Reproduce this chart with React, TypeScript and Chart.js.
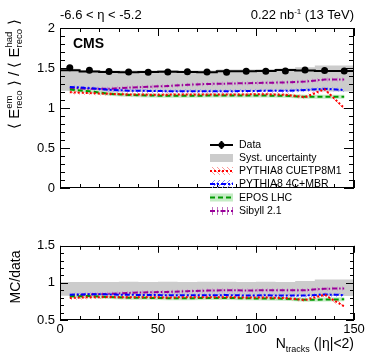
import React, { useEffect, useRef } from "react";
import { Chart, registerables } from "chart.js";
Chart.register(...registerables);

const FONT = "'Liberation Sans', Arial, Helvetica, sans-serif";

// ---- data ----
const binEdges = [0, 10, 20, 30, 40, 50, 60, 70, 80, 90, 100, 110, 120, 130, 140, 150];
const dataValues = [1.503, 1.471, 1.455, 1.451, 1.448, 1.451, 1.452, 1.451, 1.448, 1.459, 1.46, 1.464, 1.476, 1.47, 1.464];
const systLow = [1.235, 1.215, 1.205, 1.2, 1.2, 1.2, 1.2, 1.2, 1.2, 1.205, 1.205, 1.21, 1.215, 1.21, 1.205];
const systHigh = [1.525, 1.49, 1.475, 1.47, 1.47, 1.47, 1.475, 1.47, 1.47, 1.48, 1.48, 1.485, 1.495, 1.51, 1.53];
const pythiaCUETP8M1 = [1.197, 1.187, 1.177, 1.17, 1.167, 1.167, 1.17, 1.17, 1.17, 1.17, 1.172, 1.165, 1.135, 1.235, 1.0];
const pythia4CMBR = [1.264, 1.248, 1.228, 1.217, 1.214, 1.21, 1.21, 1.21, 1.21, 1.212, 1.215, 1.215, 1.225, 1.24, 1.225];
const eposLHC = [1.231, 1.21, 1.177, 1.163, 1.156, 1.153, 1.153, 1.155, 1.155, 1.155, 1.155, 1.152, 1.14, 1.14, 1.14];
const sibyll21 = [1.25, 1.24, 1.24, 1.255, 1.265, 1.275, 1.29, 1.3, 1.305, 1.31, 1.315, 1.32, 1.33, 1.355, 1.355];

const xTicks = [0, 50, 100, 150];
const yTopTicks = [0, 0.5, 1, 1.5, 2];
const yBottomTicks = [0.5, 1, 1.5];
const legendLabels = ["Data", "Syst. uncertainty", "PYTHIA8 CUETP8M1", "PYTHIA8 4C+MBR", "EPOS LHC", "Sibyll 2.1"];

const RED = "#ff0000";
const BLUE = "#0000ff";
const GREEN = "#009a00";
const PURPLE = "#990099";
const GREY = "#cccccc";

const binCenters = binEdges.slice(0, -1).map((e, i) => (e + binEdges[i + 1]) / 2);
const stepData = (vals: number[]) => binEdges.map((e, i) => ({ x: e, y: vals[Math.min(i, vals.length - 1)] }));
const pts = (vals: number[]) => binCenters.map((c, i) => ({ x: c, y: vals[i] }));
const ratio = (vals: number[]) => vals.map((v, i) => v / dataValues[i]);

function hatch(color: string, kind: string): CanvasPattern | string {
  const c = document.createElement("canvas");
  c.width = 5;
  c.height = 5;
  const g = c.getContext("2d");
  if (!g) return color;
  g.strokeStyle = color;
  g.lineWidth = 1;
  g.beginPath();
  if (kind === "v") {
    g.moveTo(2.5, 0);
    g.lineTo(2.5, 5);
  } else if (kind === "d1") {
    g.moveTo(-1, 6);
    g.lineTo(6, -1);
  } else if (kind === "d2") {
    g.moveTo(-1, -1);
    g.lineTo(6, 6);
  } else {
    g.fillStyle = color;
    g.fillRect(0, 0, 5, 5);
  }
  g.stroke();
  return g.createPattern(c, "repeat") || color;
}

type Part = { t?: string; sup?: string; sub?: string; size: number; up?: number; down?: number; dy?: number; bold?: boolean };

function partWidth(ctx: CanvasRenderingContext2D, p: Part) {
  ctx.font = `${p.bold ? "bold " : ""}${p.size}px ${FONT}`;
  if (p.t !== undefined) return ctx.measureText(p.t).width;
  return Math.max(ctx.measureText(p.sup || "").width, ctx.measureText(p.sub || "").width);
}

function drawParts(ctx: CanvasRenderingContext2D, parts: Part[], x: number, y: number, align: "left" | "right" | "center") {
  const ws = parts.map((p) => partWidth(ctx, p));
  const total = ws.reduce((a, b) => a + b, 0);
  let cx = align === "left" ? x : align === "right" ? x - total : x - total / 2;
  ctx.textAlign = "left";
  ctx.textBaseline = "alphabetic";
  ctx.fillStyle = "#000";
  parts.forEach((p, i) => {
    ctx.font = `${p.bold ? "bold " : ""}${p.size}px ${FONT}`;
    if (p.t !== undefined) {
      ctx.fillText(p.t, cx, y + (p.dy || 0));
    } else {
      if (p.sup) ctx.fillText(p.sup, cx, y - (p.up || 0));
      if (p.sub) ctx.fillText(p.sub, cx, y + (p.down || 0));
    }
    cx += ws[i];
  });
}

function framePlugin(id: string, yMin: number, yMax: number, yMajor: number[], xMajLen: number, xMinLen: number, yMajLen: number, yMinLen: number) {
  return {
    id,
    afterDraw(chart: any) {
      const { ctx, chartArea: a, scales } = chart;
      const xs = scales.x;
      const ys = scales.y;
      ctx.save();
      ctx.strokeStyle = "#000";
      ctx.lineWidth = 1;
      ctx.strokeRect(Math.round(a.left) + 0.5, Math.round(a.top) + 0.5, Math.round(a.right - a.left) - 1, Math.round(a.bottom - a.top) - 1);
      ctx.beginPath();
      for (let v = 0; v <= 150; v += 10) {
        const px = Math.round(xs.getPixelForValue(v)) + 0.5;
        const len = xTicks.includes(v) ? xMajLen : xMinLen;
        ctx.moveTo(px, a.bottom);
        ctx.lineTo(px, a.bottom - len);
        ctx.moveTo(px, a.top);
        ctx.lineTo(px, a.top + len);
      }
      const n = Math.round((yMax - yMin) / 0.1);
      for (let i = 0; i <= n; i++) {
        const v = yMin + i * 0.1;
        const py = Math.round(ys.getPixelForValue(v)) + 0.5;
        const len = yMajor.some((m) => Math.abs(m - v) < 1e-6) ? yMajLen : yMinLen;
        ctx.moveTo(a.left, py);
        ctx.lineTo(a.left + len, py);
        ctx.moveTo(a.right, py);
        ctx.lineTo(a.right - len, py);
      }
      ctx.stroke();
      ctx.restore();
    },
  };
}

const topTextPlugin = {
  id: "topText",
  afterDraw(chart: any) {
    const ctx: CanvasRenderingContext2D = chart.ctx;
    ctx.save();
    drawParts(ctx, [{ t: "-6.6 < \u03b7 < -5.2", size: 13 }], 60, 19, "left");
    drawParts(ctx, [{ t: "0.22 nb", size: 13 }, { t: "-1", size: 8, dy: -5 }, { t: " (13 TeV)", size: 13 }], 354, 19, "right");
    drawParts(ctx, [{ t: "CMS", size: 14, bold: true }], 73, 48, "left");

    // y title
    ctx.save();
    ctx.translate(19, 129);
    ctx.rotate(-Math.PI / 2);
    drawParts(
      ctx,
      [
        { t: "\u27e8 E", size: 15 },
        { sup: "em", sub: "reco", size: 9.5, up: 7, down: 3 },
        { t: " \u27e9 / \u27e8 E", size: 15 },
        { sup: "had", sub: "reco", size: 9.5, up: 7, down: 3 },
        { t: " \u27e9", size: 15 },
      ],
      0,
      0,
      "left"
    );
    ctx.restore();

    // legend
    const x0 = 210;
    const x1 = 233;
    const ys = [145, 158, 171, 184, 197.5, 211];
    const h = 4;
    ctx.strokeStyle = "#000";
    ctx.lineWidth = 2;
    ctx.beginPath();
    ctx.moveTo(x0, ys[0]);
    ctx.lineTo(x1, ys[0]);
    ctx.moveTo((x0 + x1) / 2, ys[0] - 4);
    ctx.lineTo((x0 + x1) / 2, ys[0] + 4);
    ctx.stroke();
    ctx.fillStyle = "#000";
    ctx.beginPath();
    ctx.arc((x0 + x1) / 2, ys[0], 3, 0, Math.PI * 2);
    ctx.fill();
    ctx.fillStyle = GREY;
    ctx.fillRect(x0, ys[1] - h, x1 - x0, 2 * h);
    const mcs: [string, string, string, number[]][] = [
      ["#ff9a9a", "d2", RED, [2, 2]],
      ["#8a8aff", "d1", BLUE, [5, 2, 2, 2]],
      ["#c4ecc4", "s", GREEN, [5, 3]],
      ["#c070c0", "v", PURPLE, [5, 2, 1.5, 2]],
    ];
    mcs.forEach(([hc, kind, lc, dash], k) => {
      const y = ys[k + 2];
      ctx.fillStyle = hatch(hc, kind) as any;
      ctx.fillRect(x0, y - h, x1 - x0, 2 * h);
      ctx.strokeStyle = lc;
      ctx.lineWidth = 2;
      ctx.setLineDash(dash);
      ctx.beginPath();
      ctx.moveTo(x0, y);
      ctx.lineTo(x1, y);
      ctx.stroke();
      ctx.setLineDash([]);
    });
    ctx.fillStyle = "#000";
    ctx.font = `10.5px ${FONT}`;
    ctx.textBaseline = "middle";
    ctx.textAlign = "left";
    legendLabels.forEach((l, i) => ctx.fillText(l, 239, ys[i] + 0.5));
    ctx.restore();
  },
};

const bottomTextPlugin = {
  id: "bottomText",
  afterDraw(chart: any) {
    const ctx: CanvasRenderingContext2D = chart.ctx;
    ctx.save();
    ctx.translate(20, 44);
    ctx.rotate(-Math.PI / 2);
    drawParts(ctx, [{ t: "MC/data", size: 14 }], 0, 0, "center");
    ctx.restore();
    drawParts(
      ctx,
      [
        { t: "N", size: 14 },
        { sub: "tracks", size: 9, down: 4 },
        { t: " (|\u03b7|<2)", size: 14 },
      ],
      354,
      115,
      "right"
    );
    ctx.restore();
  },
};

function mcDatasets(series: { vals: number[]; color: string; hatchColor: string; kind: string; dash: number[] }[]) {
  const lines: any[] = [];
  const unders: any[] = [];
  series.forEach((s) => {
    lines.push({
      data: pts(s.vals),
      borderColor: s.color,
      borderWidth: 2,
      borderDash: s.dash,
      pointRadius: 0,
      fill: false,
    });
    unders.push({
      data: pts(s.vals),
      borderColor: hatch(s.hatchColor, s.kind),
      borderWidth: 4,
      pointRadius: 0,
      fill: false,
    });
  });
  return [...lines, ...unders];
}

function baseOptions(padding: any, yMin: number, yMax: number, yTicks: number[], xDisplay: boolean) {
  return {
    animation: false,
    responsive: false,
    devicePixelRatio: 1,
    layout: { padding },
    plugins: {
      legend: { display: false },
      tooltip: { enabled: false },
      filler: { drawTime: "beforeDatasetsDraw" },
    },
    elements: { line: { tension: 0 } },
    scales: {
      x: {
        type: "linear",
        min: 0,
        max: 150,
        display: xDisplay,
        afterBuildTicks: (s: any) => {
          s.ticks = xTicks.map((v) => ({ value: v }));
        },
        afterFit: (s: any) => {
          s.height = 37;
        },
        grid: { display: false, drawTicks: false },
        border: { display: false },
        ticks: { font: { family: FONT, size: 13 }, color: "#000", padding: 2, maxRotation: 0, autoSkip: false },
      },
      y: {
        type: "linear",
        min: yMin,
        max: yMax,
        afterBuildTicks: (s: any) => {
          s.ticks = yTicks.map((v) => ({ value: v }));
        },
        afterFit: (s: any) => {
          s.width = 60;
        },
        grid: { display: false, drawTicks: false },
        border: { display: false },
        ticks: { font: { family: FONT, size: 13 }, color: "#000", padding: 5, callback: (v: any) => String(v) },
      },
    },
  };
}

export default function App() {
  const topRef = useRef<HTMLCanvasElement>(null);
  const botRef = useRef<HTMLCanvasElement>(null);

  useEffect(() => {
    const series = [
      { vals: pythiaCUETP8M1, color: RED, hatchColor: "#ffa0a0", kind: "d2", dash: [2, 2] },
      { vals: pythia4CMBR, color: BLUE, hatchColor: "#9a9aff", kind: "d1", dash: [5, 2, 2, 2] },
      { vals: eposLHC, color: GREEN, hatchColor: "#c4ecc4", kind: "s", dash: [5, 3] },
      { vals: sibyll21, color: PURPLE, hatchColor: "#d090d0", kind: "v", dash: [5, 2, 1.5, 2] },
    ];
    const top = new Chart(topRef.current!, {
      type: "line",
      data: {
        datasets: [
          { data: pts(dataValues), showLine: false, pointRadius: 3.5, pointBackgroundColor: "#000", pointBorderWidth: 0 },
          { data: stepData(dataValues), borderColor: "#000", borderWidth: 2, stepped: "after", pointRadius: 0, fill: false },
          ...mcDatasets(series),
          { data: stepData(systHigh), borderWidth: 0, pointRadius: 0, stepped: "after", fill: "+1", backgroundColor: GREY, borderColor: "rgba(0,0,0,0)" },
          { data: stepData(systLow), borderWidth: 0, pointRadius: 0, stepped: "after", fill: false, borderColor: "rgba(0,0,0,0)" },
        ],
      } as any,
      options: baseOptions({ top: 28, right: 20, bottom: 8, left: 0 }, 0, 2, yTopTicks, false) as any,
      plugins: [framePlugin("frameTop", 0, 2, yTopTicks, 8, 4, 10, 5), topTextPlugin],
    });
    const bot = new Chart(botRef.current!, {
      type: "line",
      data: {
        datasets: [
          ...mcDatasets(series.map((s) => ({ ...s, vals: ratio(s.vals) }))),
          { data: stepData(ratio(systHigh)), borderWidth: 0, pointRadius: 0, stepped: "after", fill: "+1", backgroundColor: GREY, borderColor: "rgba(0,0,0,0)" },
          { data: stepData(ratio(systLow)), borderWidth: 0, pointRadius: 0, stepped: "after", fill: false, borderColor: "rgba(0,0,0,0)" },
        ],
      } as any,
      options: baseOptions({ top: 6, right: 20, bottom: 0, left: 0 }, 0.5, 1.5, yBottomTicks, true) as any,
      plugins: [framePlugin("frameBot", 0.5, 1.5, yBottomTicks, 7, 4, 8, 4), bottomTextPlugin],
    });
    return () => {
      top.destroy();
      bot.destroy();
    };
  }, []);

  return (
    <div style={{ position: "absolute", left: 0, top: 0, width: 374, height: 357, background: "#fff" }}>
      <canvas ref={topRef} width={374} height={233} style={{ position: "absolute", left: 0, top: 0 }} />
      <canvas ref={botRef} width={374} height={124} style={{ position: "absolute", left: 0, top: 233 }} />
    </div>
  );
}
